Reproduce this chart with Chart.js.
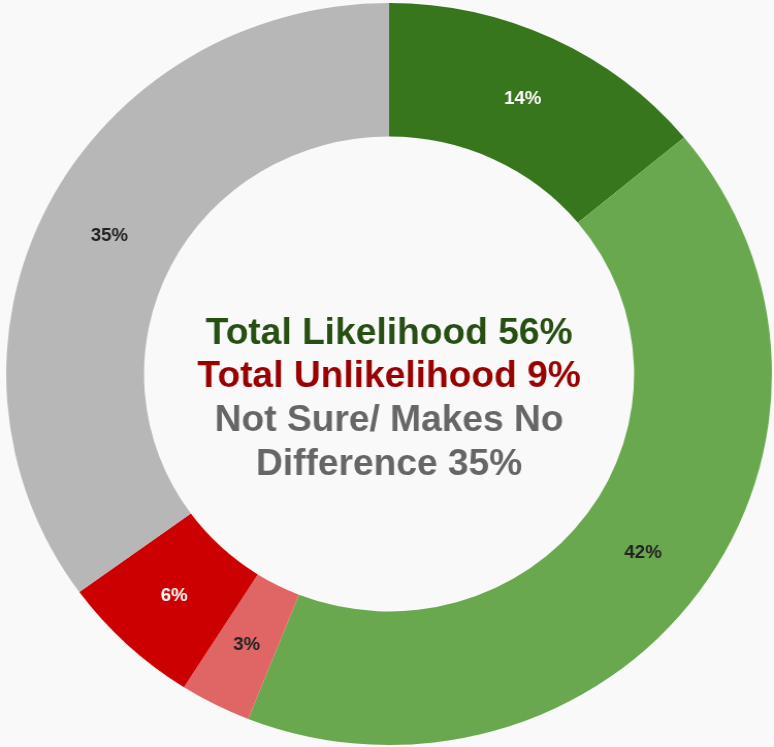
<!DOCTYPE html>
<html>
<head>
<meta charset="utf-8">
<script src="https://cdn.jsdelivr.net/npm/chart.js@4.4.1/dist/chart.umd.min.js"></script>
<style>
  html, body { margin: 0; padding: 0; background: #f9f9f9; }
  #chart { display: block; }
</style>
</head>
<body>
<!-- drawn at 750 wide, shown at 774 wide: the reference ring is slightly wider than tall -->
<canvas id="chart" width="750" height="747" style="width:774px;height:747px;"></canvas>
<script>
// Response shares, clockwise from 12 o'clock
var categories = ['Very likely', 'Somewhat likely', 'Somewhat unlikely', 'Very unlikely', 'Not sure / makes no difference'];
var shares = [14, 42, 3, 6, 35];
var sliceLabels = ['14%', '42%', '3%', '6%', '35%'];
var centerLines = ['Total Likelihood 56%', 'Total Unlikelihood 9%', 'Not Sure/ Makes No', 'Difference 35%'];

var sliceColors = ['#38761d', '#6aa84f', '#e06666', '#cc0000', '#b7b7b7'];
var sliceTextColors = ['#ffffff', '#222222', '#222222', '#ffffff', '#222222'];
var centerColors = ['#274e13', '#990000', '#666666', '#666666'];

// Percent labels on each slice, placed at the arc's own center point
var sliceLabelPlugin = {
    id: 'sliceLabels',
    afterDatasetsDraw: function (chart) {
        var ctx = chart.ctx;
        var arcs = chart.getDatasetMeta(0).data;
        ctx.save();
        ctx.font = 'bold 18px "Liberation Sans", Arial, sans-serif';
        ctx.textAlign = 'center';
        ctx.textBaseline = 'middle';
        arcs.forEach(function (arc, i) {
            var p = arc.getCenterPoint();
            ctx.fillStyle = sliceTextColors[i];
            ctx.fillText(sliceLabels[i], p.x, p.y);
        });
        ctx.restore();
    }
};

// Summary text in the hole
var centerTextPlugin = {
    id: 'centerText',
    afterDraw: function (chart) {
        var ctx = chart.ctx,
            area = chart.chartArea,
            cx = (area.left + area.right) / 2,
            cy = (area.top + area.bottom) / 2,
            offsets = [-30, 13, 57, 101];
        ctx.save();
        ctx.font = 'bold 36px "Liberation Sans", Arial, sans-serif';
        ctx.textAlign = 'center';
        ctx.textBaseline = 'alphabetic';
        centerLines.forEach(function (line, i) {
            ctx.fillStyle = centerColors[i];
            ctx.fillText(line, cx, cy + offsets[i]);
        });
        ctx.restore();
    }
};

new Chart(document.getElementById('chart').getContext('2d'), {
    type: 'doughnut',
    data: {
        labels: categories,
        datasets: [{
            data: shares,
            backgroundColor: sliceColors,
            borderWidth: 0,
            offset: 0,
            hoverOffset: 0
        }]
    },
    options: {
        responsive: false,
        animation: false,
        events: [],
        cutout: '64%',
        rotation: 0,
        layout: { padding: { left: 6, right: 2, top: 3, bottom: 2 } },
        plugins: {
            legend: { display: false },
            tooltip: { enabled: false }
        }
    },
    plugins: [sliceLabelPlugin, centerTextPlugin]
});
</script>
</body>
</html>
